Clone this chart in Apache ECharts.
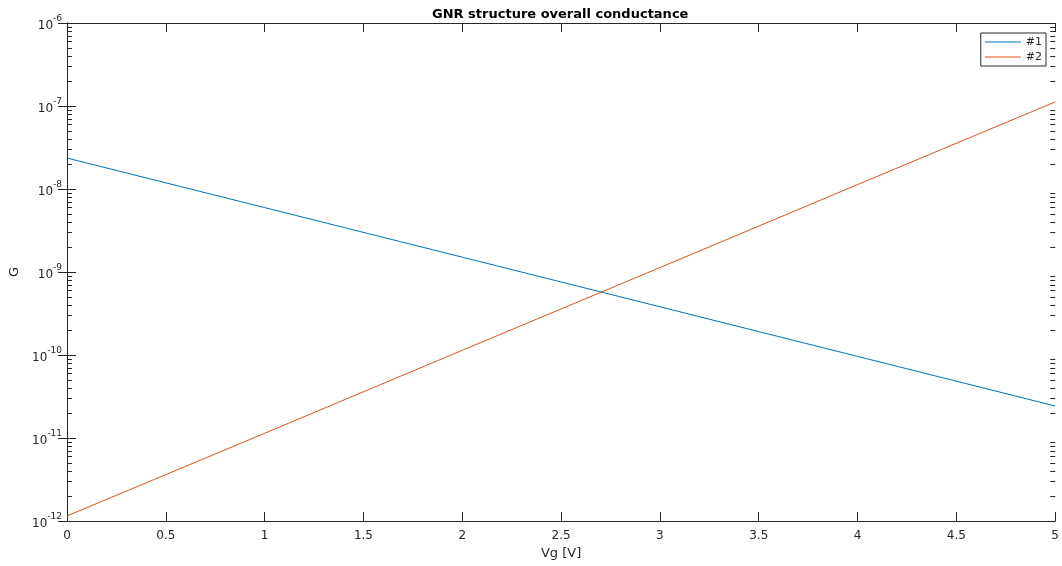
<!DOCTYPE html>
<html>
<head>
<meta charset="utf-8">
<script src="https://cdn.jsdelivr.net/npm/echarts@6/dist/echarts.min.js"></script>
<style>html,body{margin:0;padding:0;background:#fff}#c{width:1062px;height:566px}</style>
</head>
<body>
<div id="c"></div>
<script>
// Data
const vg = [0, 1, 2, 3, 4, 5];
const g1 = [2.36e-8, 5.97e-9, 1.51e-9, 3.81e-10, 9.62e-11, 2.43e-11];
const g2 = [1.15e-12, 1.14e-11, 1.14e-10, 1.13e-9, 1.13e-8, 1.12e-7];
const seriesNames = ['#1', '#2'];
const seriesColors = ['#0072BD', '#D95319'];
const minorMantissas = [2, 3, 4, 5, 6, 7, 8, 9];
const decadeExponents = [-12, -11, -10, -9, -8, -7];

const minorTickValues = [];
decadeExponents.forEach(e => minorMantissas.forEach(m => minorTickValues.push([0, m * Math.pow(10, e)])));

const axisColor = '#262626';
const font = 'DejaVu Sans';

const chart = echarts.init(document.getElementById('c'), null, {renderer: 'canvas'});

const yAxisBase = {
  type: 'log', logBase: 10, min: 1e-12, max: 1e-6, interval: 1,
  axisLine: {show: true, lineStyle: {color: axisColor, width: 1}},
  axisTick: {show: true, inside: true, length: 9, lineStyle: {color: axisColor}},
  splitLine: {show: false},
  minorTick: {show: false}
};

chart.setOption({
  animation: false,
  backgroundColor: '#fff',
  color: seriesColors,
  title: {
    text: 'GNR structure overall conductance',
    left: 427, top: 3,
    textStyle: {fontFamily: font, fontSize: 13, fontWeight: 'bold', color: '#000'}
  },
  legend: {
    data: seriesNames.map((n, i) => ({name: n, icon: 'rect', itemStyle: {color: seriesColors[i], borderWidth: 0, opacity: 1}})),
    orient: 'vertical',
    right: 16, top: 33,
    itemWidth: 36, itemHeight: 1,
    itemGap: 3,
    padding: [3, 4, 3, 4],
    backgroundColor: '#fff',
    borderColor: axisColor, borderWidth: 1, borderRadius: 0,
    itemStyle: {borderWidth: 0},
    textStyle: {fontFamily: font, fontSize: 11, lineHeight: 12, color: axisColor, padding: [0, 0, 0, 0]}
  },
  grid: {left: 66, right: 5, top: 23, bottom: 45, show: false},
  xAxis: [{
    type: 'value', min: 0, max: 5, interval: 0.5, position: 'bottom',
    axisLine: {show: true, onZero: false, lineStyle: {color: axisColor, width: 1}},
    axisTick: {show: true, inside: true, length: 9, lineStyle: {color: axisColor}},
    axisLabel: {fontFamily: font, fontSize: 12, color: axisColor, margin: 9},
    splitLine: {show: false},
    name: 'Vg [V]', nameLocation: 'middle', nameGap: 24,
    nameTextStyle: {fontFamily: font, fontSize: 13, color: axisColor}
  }, {
    type: 'value', min: 0, max: 5, interval: 0.5, position: 'top',
    axisLine: {show: true, onZero: false, lineStyle: {color: axisColor, width: 1}},
    axisTick: {show: true, inside: true, length: 9, lineStyle: {color: axisColor}},
    axisLabel: {show: false},
    splitLine: {show: false}
  }],
  yAxis: [Object.assign({}, yAxisBase, {
    position: 'left',
    axisLabel: {
      margin: 5,
      formatter: v => '{b|10}{s|' + Math.round(Math.log10(v)) + '}',
      rich: {
        b: {fontFamily: font, fontSize: 12, color: axisColor, verticalAlign: 'bottom', lineHeight: 18},
        s: {fontFamily: font, fontSize: 9, color: axisColor, verticalAlign: 'top', lineHeight: 18}
      }
    },
    name: 'G', nameLocation: 'middle', nameGap: 46,
    nameTextStyle: {fontFamily: font, fontSize: 13, color: axisColor}
  }), Object.assign({}, yAxisBase, {
    position: 'right',
    axisLabel: {show: false}
  })],
  series: [{
    name: seriesNames[0], type: 'line', xAxisIndex: 0, yAxisIndex: 0,
    data: vg.map((x, i) => [x, g1[i]]),
    showSymbol: false, symbol: 'none', color: seriesColors[0],
    lineStyle: {color: seriesColors[0], width: 1}
  }, {
    name: seriesNames[1], type: 'line', xAxisIndex: 0, yAxisIndex: 0,
    data: vg.map((x, i) => [x, g2[i]]),
    showSymbol: false, symbol: 'none', color: seriesColors[1],
    lineStyle: {color: seriesColors[1], width: 1}
  }, {
    name: 'minorTicks', type: 'custom', xAxisIndex: 0, yAxisIndex: 0,
    silent: true, clip: false,
    data: minorTickValues,
    encode: {x: 0, y: 1},
    renderItem: function (params, api) {
      const v = api.value(1);
      const pL = api.coord([0, v]);
      const pR = api.coord([5, v]);
      const y = Math.round(pL[1]) + 0.5;
      return {
        type: 'group',
        children: [
          {type: 'line', shape: {x1: pL[0], y1: y, x2: pL[0] + 5, y2: y}, style: {stroke: axisColor, lineWidth: 1}},
          {type: 'line', shape: {x1: pR[0] - 5, y1: y, x2: pR[0], y2: y}, style: {stroke: axisColor, lineWidth: 1}}
        ]
      };
    }
  }]
});
</script>
</body>
</html>
